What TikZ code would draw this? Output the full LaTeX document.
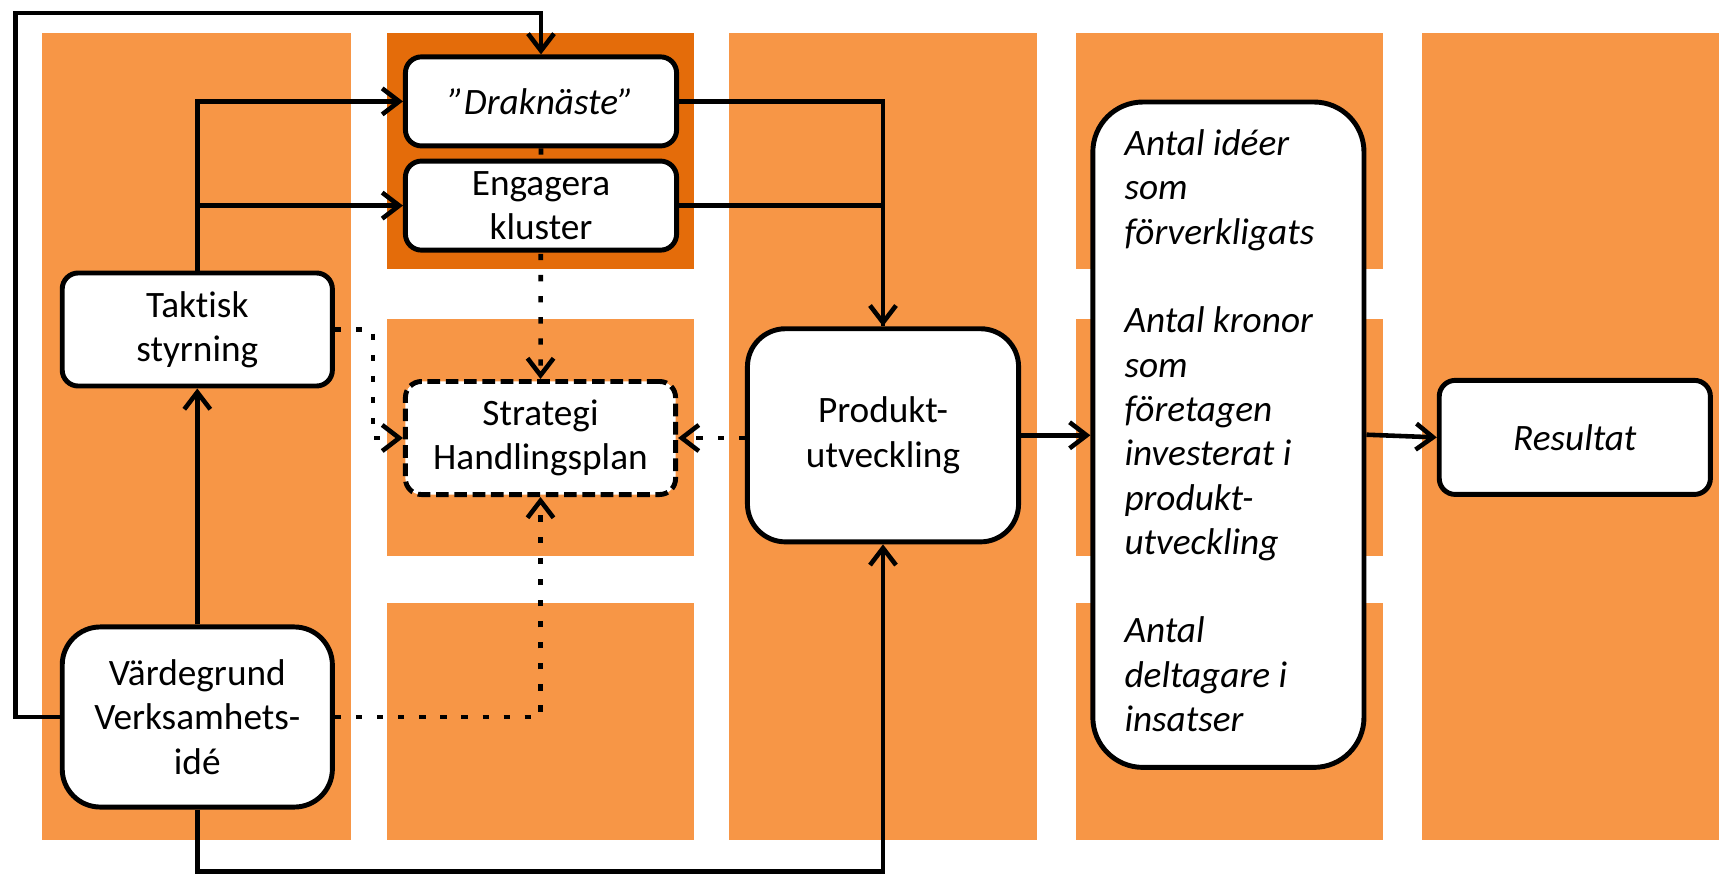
\documentclass[tikz,border=0pt]{standalone}
\usepackage{fontspec}
\setmainfont{Carlito}[Ligatures=NoCommon]
\usetikzlibrary{arrows.meta,backgrounds}

\definecolor{orlight}{HTML}{F79646}
\definecolor{ordark}{HTML}{E46C0A}

\begin{document}
\begin{tikzpicture}[x=0.01cm,y=-0.01cm]
	\tikzset{
	box/.style={rectangle,draw,line width=1.4pt,fill=white,rounded corners=1.6mm,
		align=center,inner sep=0pt,font=\fontsize{10.6}{12.6}\selectfont},
	bigbox/.style={box,rounded corners=3.8mm},
	arrow/.style={-{Straight Barb[length=1.7mm,width=2.6mm]},line width=1.3pt},
	dots/.style={line width=1.3pt,dash pattern=on 1.8pt off 4.2pt}}

	\useasboundingbox (0,0) rectangle (1719,873);

	%boxes
	\node[box,minimum width=2.71cm,minimum height=0.89cm,font=\fontsize{10.6}{12.6}\selectfont\itshape] (drak) at (541,101.4) {”Draknäste”};
	\node[box,minimum width=2.71cm,minimum height=0.89cm] (engag) at (541,205.6) {Engagera\\kluster};
	\node[box,minimum width=2.70cm,minimum height=1.13cm] (takt) at (197.3,329.5) {Taktisk\\styrning};
	\node[box,minimum width=2.70cm,minimum height=1.13cm,dash pattern=on 3.6pt off 1.6pt] (strat) at (540.5,438) {Strategi\\Handlingsplan};
	\node[bigbox,minimum width=2.71cm,minimum height=2.13cm] (prod) at (883,435.3) {Produkt-\\utveckling};
	\node[bigbox,minimum width=2.70cm,minimum height=1.80cm] (vard) at (197.3,717) {Värdegrund\\Verksamhets-\\idé};
	\node[box,rounded corners=5mm,minimum width=2.71cm,minimum height=6.65cm,
		font=\fontsize{10.6}{12.6}\selectfont\itshape] (antal) at (1228.4,434.7)
		{\begin{tabular}{@{}l@{}}Antal idéer\\som\\förverkligats\\[12.6pt]Antal kronor\\som\\företagen\\investerat i\\produkt-\\utveckling\\[12.6pt]Antal\\deltagare i\\insatser\end{tabular}\hspace{0.18cm}};
	\node[box,minimum width=2.71cm,minimum height=1.14cm,font=\fontsize{10.6}{12.6}\selectfont\itshape] (res) at (1574.8,437.4) {Resultat};

	\begin{pgfonlayer}{background}
	%columns
	\fill[orlight] (41.7,32.9) rectangle (350.8,839.8);
	\fill[ordark] (387,32.9) rectangle (694,268.6);
	\fill[orlight] (729,32.9) rectangle (1037,839.8);
	\fill[orlight] (1075.5,32.9) rectangle (1382.5,268.6);
	\fill[orlight] (1422,32.9) rectangle (1719,839.8);
	\foreach \x in {387,1075.5}{
		\fill[orlight] (\x,319) rectangle ++(307,236.8);
		\fill[orlight] (\x,603) rectangle ++(307,236.8);
	}
	\draw[dots,arrow] (drak.south) -- (strat.north);
	\end{pgfonlayer}

	\coordinate (lft) at (15.3,13);

	%solid
	\draw[arrow] (vard.west) -| (lft) -| (drak.north);
	\draw[arrow] (vard.north) -- (takt.south);
	\draw[arrow] (takt.north) |- (drak.west);
	\draw[arrow] (takt.north) |- (engag.west);
	\draw[arrow] (drak.east) -| (prod.north);
	\draw[line width=1.3pt] (engag.east) -| (prod.north);
	\draw[arrow] (vard.south) -- ++(0,62) -| (prod.south);
	\draw[arrow] (prod.east) -- (prod.east -| antal.west);
	\draw[arrow] (antal.east) -- (res.west);

	%dotted
	\draw[dots,arrow] (takt.east) -- ++(38,0) |- (strat.west);
	\draw[dots,arrow] (vard.east) -| (strat.south);
	\draw[dots,arrow] (prod.west |- strat.east) -- (strat.east);

\end{tikzpicture}
\end{document}
